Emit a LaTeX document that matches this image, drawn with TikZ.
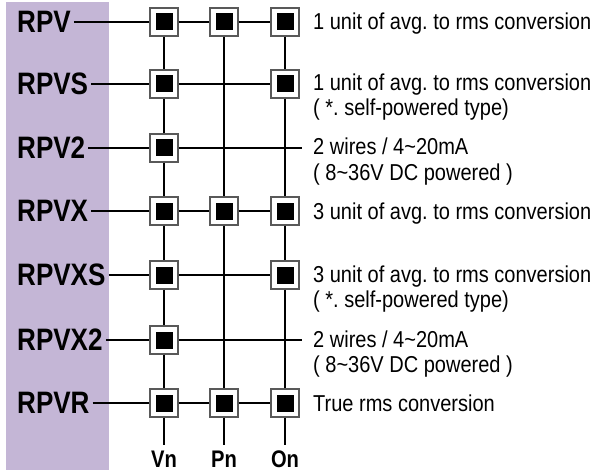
\documentclass[tikz,border=0pt]{standalone}
\usepackage{fontspec}
\setmainfont{Liberation Sans}[FakeStretch=0.87]
\newfontfamily\labelfont{Liberation Sans}[FakeStretch=0.84]
\usetikzlibrary{positioning}
\definecolor{panel}{RGB}{196,182,214}
\frenchspacing
\tikzset{
  rowlabel/.style={font=\labelfont\fontsize{31}{36}\selectfont\bfseries, anchor=west, inner sep=3pt},
  collabel/.style={font=\labelfont\fontsize{24}{28}\selectfont\bfseries, inner sep=0pt},
  desc/.style={font=\fontsize{23}{27}\selectfont, anchor=base west, inner sep=0pt},
  termbox/.style={draw=black!65, fill=white, line width=1.2pt, inner sep=5.5pt},
  wire/.style={line width=1.8pt},
}
\newcommand{\blk}{\rule{17pt}{17pt}}

\begin{document}
\begin{tikzpicture}[x=1pt, y=-1pt]
  \useasboundingbox (0,0) rectangle (599,473);
  \fill[panel] (6,2) rectangle (109,470);

  % Row labels
  \node[rowlabel] (RPV)   at (14,22)  {RPV};
  \node[rowlabel] (RPVS)  at (14,84)  {RPVS};
  \node[rowlabel] (RPV2)  at (14,148) {RPV2};
  \node[rowlabel] (RPVX)  at (14,211) {RPVX};
  \node[rowlabel] (RPVXS) at (14,275) {RPVXS};
  \node[rowlabel] (RPVX2) at (14,340) {RPVX2};
  \node[rowlabel] (RPVR)  at (14,403) {RPVR};

  % Terminal boxes
  \node[termbox] (RPV-V) at (164,22) {\blk};
  \node[termbox] (RPV-P) at (224,22) {\blk};
  \node[termbox] (RPV-O) at (285,22) {\blk};
  \node[termbox] (RPVS-V) at (164,84) {\blk};
  \node[termbox] (RPVS-O) at (285,84) {\blk};
  \node[termbox] (RPV2-V) at (164,148) {\blk};
  \node[termbox] (RPVX-V) at (164,211) {\blk};
  \node[termbox] (RPVX-P) at (224,211) {\blk};
  \node[termbox] (RPVX-O) at (285,211) {\blk};
  \node[termbox] (RPVXS-V) at (164,275) {\blk};
  \node[termbox] (RPVXS-O) at (285,275) {\blk};
  \node[termbox] (RPVX2-V) at (164,340) {\blk};
  \node[termbox] (RPVR-V) at (164,403) {\blk};
  \node[termbox] (RPVR-P) at (224,403) {\blk};
  \node[termbox] (RPVR-O) at (285,403) {\blk};

  % Free ends
  \coordinate (RPV2-end)  at (302,148);
  \coordinate (RPVX2-end) at (302,340);
  \coordinate (Vn-end) at (164,445);
  \coordinate (Pn-end) at (224,445);
  \coordinate (On-end) at (285,445);

  % Column labels
  \node[collabel] (Vn) at (164,459) {Vn};
  \node[collabel] (Pn) at (224,459) {Pn};
  \node[collabel] (On) at (285,459) {On};

  % Horizontal wires
  \draw[wire] (RPV) -- (RPV-V) -- (RPV-P) -- (RPV-O);
  \draw[wire] (RPVS) -- (RPVS-V) -- (RPVS-O);
  \draw[wire] (RPV2) -- (RPV2-V) -- (RPV2-end);
  \draw[wire] (RPVX) -- (RPVX-V) -- (RPVX-P) -- (RPVX-O);
  \draw[wire] (RPVXS) -- (RPVXS-V) -- (RPVXS-O);
  \draw[wire] (RPVX2) -- (RPVX2-V) -- (RPVX2-end);
  \draw[wire] (RPVR) -- (RPVR-V) -- (RPVR-P) -- (RPVR-O);

  % Vertical wires
  \draw[wire] (RPV-V) -- (RPVS-V) -- (RPV2-V) -- (RPVX-V) -- (RPVXS-V) -- (RPVX2-V) -- (RPVR-V) -- (Vn-end);
  \draw[wire] (RPV-P) -- (RPVX-P) -- (RPVR-P) -- (Pn-end);
  \draw[wire] (RPV-O) -- (RPVS-O) -- (RPVX-O) -- (RPVXS-O) -- (RPVR-O) -- (On-end);

  % Descriptions
  \node[desc] (RPV-t)    at (313,30)  {1 unit of avg. to rms conversion};
  \node[desc] (RPVS-t)   at (313,91)  {1 unit of avg. to rms conversion};
  \node[desc] (RPVS-t2)  at (313,116) {( *. self-powered type)};
  \node[desc] (RPV2-t)   at (313,155) {2 wires / 4\textasciitilde20mA};
  \node[desc] (RPV2-t2)  at (313,180) {( 8\textasciitilde36V DC powered )};
  \node[desc] (RPVX-t)   at (313,219) {3 unit of avg. to rms conversion};
  \node[desc] (RPVXS-t)  at (313,282) {3 unit of avg. to rms conversion};
  \node[desc] (RPVXS-t2) at (313,307) {( *. self-powered type)};
  \node[desc] (RPVX2-t)  at (313,347) {2 wires / 4\textasciitilde20mA};
  \node[desc] (RPVX2-t2) at (313,372) {( 8\textasciitilde36V DC powered )};
  \node[desc] (RPVR-t)   at (313,411) {True rms conversion};
\end{tikzpicture}
\end{document}
